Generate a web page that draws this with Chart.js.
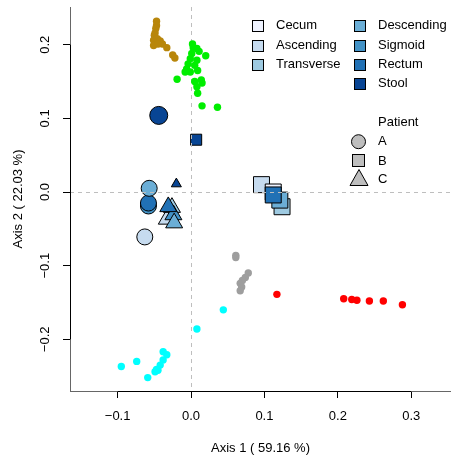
<!DOCTYPE html>
<html>
<head>
<meta charset="utf-8">
<script src="https://cdn.jsdelivr.net/npm/chart.js@4/dist/chart.umd.min.js"></script>
<style>
  body { margin: 0; background: #fff; }
  canvas { display: block; }
</style>
</head>
<body>
<canvas id="pcoa" width="451" height="455"></canvas>
<script>
// axis ticks
var xTicks = [-0.1, 0.0, 0.1, 0.2, 0.3];
var yTicks = [-0.2, -0.1, 0.0, 0.1, 0.2];

// colon sites + colours (Blues)
var sites = ["Cecum", "Ascending", "Transverse", "Descending", "Sigmoid", "Rectum", "Stool"];
var siteColors = ["#EFF3FF", "#C6DBEF", "#9ECAE1", "#6BAED6", "#4292C6", "#2171B5", "#084594"];
var patients = ["A", "B", "C"];

// patient A - circles
var aSite = ["Ascending", "Sigmoid", "Rectum", "Descending", "Stool"];
var aX = [-0.063, -0.058, -0.058, -0.057, -0.044];
var aY = [-0.061, -0.019, -0.015, 0.005, 0.104];

// patient B - squares
var bSite = ["Ascending", "Cecum", "Transverse", "Descending", "Rectum", "Stool"];
var bX = [0.096, 0.112, 0.124, 0.121, 0.112, 0.007];
var bY = [0.010, 0.000, -0.020, -0.011, -0.004, 0.071];

// patient C - triangles
var cSite = ["Ascending", "Transverse", "Sigmoid", "Descending", "Rectum", "Stool"];
var cX = [-0.033, -0.026, -0.024, -0.023, -0.031, -0.020];
var cY = [-0.037, -0.021, -0.031, -0.042, -0.020, 0.011];

// other samples (small dots)
var brownX = [-0.047, -0.047, -0.048, -0.049, -0.050, -0.051, -0.051, -0.046, -0.042, -0.039, -0.045, -0.033, -0.025, -0.022];
var brownY = [0.232, 0.226, 0.222, 0.216, 0.213, 0.206, 0.199, 0.208, 0.205, 0.201, 0.201, 0.196, 0.186, 0.182];

var greenX = [0.002, 0.003, 0.008, 0.011, 0.020, 0.001, -0.001, -0.004, 0.008, 0.005, -0.006, -0.008, -0.001, 0.009, -0.019, 0.005, 0.014, 0.015, 0.008, 0.009, 0.015, 0.036];
var greenY = [0.201, 0.196, 0.195, 0.191, 0.185, 0.188, 0.181, 0.174, 0.179, 0.172, 0.167, 0.163, 0.163, 0.165, 0.153, 0.150, 0.152, 0.148, 0.143, 0.134, 0.117, 0.115];

var grayX = [0.061, 0.061, 0.078, 0.074, 0.070, 0.067, 0.069, 0.067];
var grayY = [-0.086, -0.089, -0.110, -0.116, -0.120, -0.124, -0.129, -0.134];

var redX = [0.117, 0.208, 0.219, 0.226, 0.243, 0.262, 0.288];
var redY = [-0.139, -0.145, -0.146, -0.147, -0.148, -0.148, -0.153];

var cyanX = [0.044, 0.008, -0.038, -0.033, -0.038, -0.042, -0.047, -0.049, -0.045, -0.074, -0.095, -0.059];
var cyanY = [-0.160, -0.186, -0.217, -0.221, -0.228, -0.235, -0.241, -0.244, -0.242, -0.230, -0.237, -0.252];

var FONT = "'Liberation Sans', Arial, Helvetica, sans-serif";
Chart.defaults.font.family = FONT;
Chart.defaults.font.size = 13;
Chart.defaults.color = "#000";

function pts(xs, ys) {
  return xs.map(function (x, i) { return { x: x, y: ys[i] }; });
}
function fills(list) {
  return list.map(function (s) { return siteColors[sites.indexOf(s)]; });
}

function patientSet(p, style, xs, ys, list, size, stoolSize) {
  return {
    label: "Patient " + p,
    data: pts(xs, ys),
    order: 1,
    pointStyle: style,
    pointRadius: list.map(function (s) { return s === "Stool" ? stoolSize : size; }),
    pointBackgroundColor: fills(list),
    pointBorderColor: "#000",
    pointBorderWidth: 1
  };
}

function dotSet(name, color, xs, ys) {
  return {
    label: name,
    data: pts(xs, ys),
    order: 0,
    pointStyle: "circle",
    pointRadius: 3.7,
    pointBackgroundColor: color,
    pointBorderWidth: 0
  };
}

// dashed lines through the origin, drawn above the colon markers but under the dots
var linesDone = false;
var zeroLines = {
  id: "zeroLines",
  beforeDatasetsDraw: function () { linesDone = false; },
  beforeDatasetDraw: function (chart, args) {
    if (linesDone || args.meta.order !== 0) return;
    linesDone = true;
    var ctx = chart.ctx, a = chart.chartArea;
    var x0 = Math.round(chart.scales.x.getPixelForValue(0)) + 0.5;
    var y0 = Math.round(chart.scales.y.getPixelForValue(0)) + 0.5;
    ctx.save();
    ctx.strokeStyle = "#BEBEBE";
    ctx.lineWidth = 1;
    ctx.setLineDash([4, 4]);
    ctx.beginPath();
    ctx.moveTo(a.left, y0); ctx.lineTo(a.right, y0);
    ctx.moveTo(x0, a.top); ctx.lineTo(x0, a.bottom);
    ctx.stroke();
    ctx.restore();
  }
};

// black axis segment between first and last tick, rotated y labels
var axisExtras = {
  id: "axisExtras",
  afterDraw: function (chart) {
    var ctx = chart.ctx, a = chart.chartArea;
    var sx = chart.scales.x, sy = chart.scales.y;
    var bx = Math.round(a.left) + 0.5, by = Math.round(a.bottom) + 0.5;
    ctx.save();
    ctx.strokeStyle = "#000";
    ctx.lineWidth = 1;
    ctx.beginPath();
    ctx.moveTo(bx, sy.getPixelForValue(yTicks[0]));
    ctx.lineTo(bx, sy.getPixelForValue(yTicks[yTicks.length - 1]));
    ctx.moveTo(sx.getPixelForValue(xTicks[0]), by);
    ctx.lineTo(sx.getPixelForValue(xTicks[xTicks.length - 1]), by);
    ctx.stroke();

    ctx.fillStyle = "#000";
    ctx.font = "13px " + FONT;
    ctx.textAlign = "center";
    ctx.textBaseline = "middle";
    yTicks.forEach(function (v) {
      ctx.save();
      ctx.translate(45, sy.getPixelForValue(v));
      ctx.rotate(-Math.PI / 2);
      ctx.fillText(fmt(v), 0, 0);
      ctx.restore();
    });
    ctx.restore();
  }
};

// legend: sites (two columns) + patient shapes
var siteLegend = {
  id: "siteLegend",
  afterDraw: function (chart) {
    var ctx = chart.ctx;
    ctx.save();
    ctx.font = "13px " + FONT;
    ctx.textAlign = "left";
    ctx.textBaseline = "middle";
    ctx.lineWidth = 1;
    ctx.strokeStyle = "#000";
    sites.forEach(function (s, i) {
      var col = i < 3 ? 0 : 1;
      var row = i < 3 ? i : i - 3;
      var cx = col ? 359 : 257;
      var tx = col ? 378 : 276;
      var cy = 25.7 + row * 19.4;
      var l = Math.round(cx - 5.5) + 0.5, t = Math.round(cy - 5.5) + 0.5;
      ctx.fillStyle = siteColors[i];
      ctx.fillRect(l, t, 11, 11);
      ctx.strokeRect(l, t, 11, 11);
      ctx.fillStyle = "#000";
      ctx.fillText(s, tx, cy);
    });

    ctx.fillText("Patient", 378, 122.3);
    var gy = [141.7, 161, 179.5];
    ctx.fillStyle = "#BEBEBE";
    // A circle
    ctx.beginPath();
    ctx.arc(358.5, gy[0], 7, 0, Math.PI * 2);
    ctx.fill(); ctx.stroke();
    // B square
    ctx.fillRect(352.5, 154.5, 12, 12);
    ctx.strokeRect(352.5, 154.5, 12, 12);
    // C triangle
    ctx.beginPath();
    ctx.moveTo(359, 169.5);
    ctx.lineTo(368, 185.5);
    ctx.lineTo(350, 185.5);
    ctx.closePath();
    ctx.fill(); ctx.stroke();
    ctx.fillStyle = "#000";
    patients.forEach(function (p, i) { ctx.fillText(p, 378, gy[i]); });
    ctx.restore();
  }
};

function fmt(v) {
  var s = Math.abs(v).toFixed(1);
  return v < 0 ? "\u2212" + s : s;
}

function noPad(s) {
  s.paddingLeft = 0; s.paddingRight = 0; s.paddingTop = 0; s.paddingBottom = 0;
}

new Chart(document.getElementById("pcoa"), {
  type: "scatter",
  data: {
    datasets: [
      patientSet("A", "circle", aX, aY, aSite, 8, 9),
      patientSet("B", "rect", bX, bY, bSite, 11.3, 7.8),
      patientSet("C", "triangle", cX, cY, cSite, 9.8, 5.8),
      dotSet("brown", "#B8860B", brownX, brownY),
      dotSet("green", "#00EE00", greenX, greenY),
      dotSet("gray", "#9E9E9E", grayX, grayY),
      dotSet("red", "#FF0000", redX, redY),
      dotSet("cyan", "#00FFFF", cyanX, cyanY)
    ]
  },
  options: {
    responsive: false,
    animation: false,
    events: [],
    layout: { autoPadding: false, padding: { top: 7, left: 0, right: 0, bottom: 0 } },
    plugins: { legend: { display: false }, tooltip: { enabled: false } },
    scales: {
      x: {
        type: "linear",
        min: -0.1649,
        max: 0.3542,
        afterBuildTicks: function (s) { s.ticks = xTicks.map(function (v) { return { value: v }; }); },
        afterFit: function (s) { s.height = 64; noPad(s); },
        grid: { display: true, drawOnChartArea: false, drawTicks: true, tickLength: 7, tickColor: "#000", tickWidth: 1 },
        border: { display: true, color: "#666", width: 1 },
        ticks: { padding: 11, color: "#000", font: { size: 13 }, maxRotation: 0, callback: function (v) { return fmt(v); } },
        title: { display: true, text: "Axis 1 ( 59.16 %)", color: "#000", font: { size: 13, lineHeight: 1 }, padding: { top: 0, bottom: 0 } }
      },
      y: {
        type: "linear",
        min: -0.2702,
        max: 0.2512,
        afterBuildTicks: function (s) { s.ticks = yTicks.map(function (v) { return { value: v }; }); },
        afterFit: function (s) { s.width = 70; noPad(s); },
        grid: { display: true, drawOnChartArea: false, drawTicks: true, tickLength: 7, tickColor: "#000", tickWidth: 1 },
        border: { display: true, color: "#666", width: 1 },
        ticks: { display: false },
        title: { display: true, text: "Axis 2 ( 22.03 %)", color: "#000", font: { size: 13, lineHeight: 1 }, padding: { top: 11.5, bottom: 0 } }
      }
    }
  },
  plugins: [zeroLines, axisExtras, siteLegend]
});
</script>
</body>
</html>
